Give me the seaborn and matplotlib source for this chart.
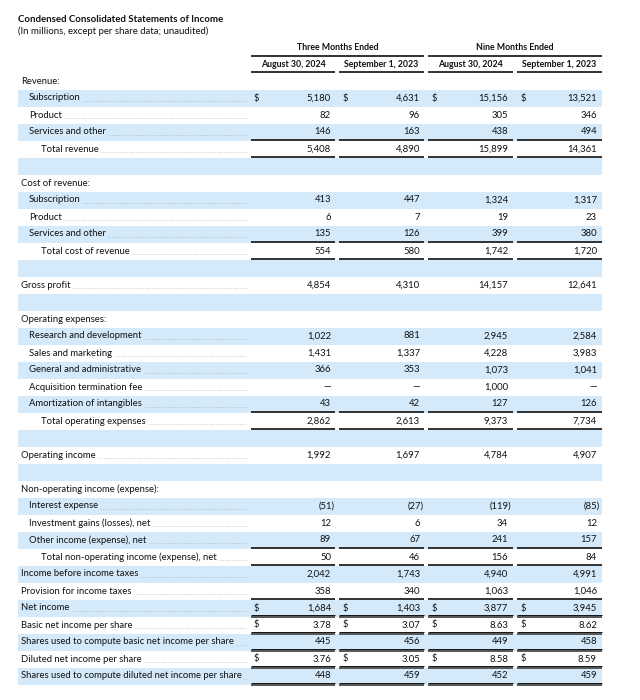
import matplotlib
matplotlib.use("Agg")
import matplotlib.pyplot as plt
import seaborn as sns

sns.set_theme(style="white")
plt.rcParams['font.family'] = ['Lato', 'DejaVu Sans']

title = "Condensed Consolidated Statements of Income"
subtitle = "(In millions, except per share data; unaudited)"
group_headers = ["Three Months Ended", "Nine Months Ended"]
col_headers = ["August 30, 2024", "September 1, 2023", "August 30, 2024", "September 1, 2023"]

labels = [
    "Revenue:", "Subscription", "Product", "Services and other", "Total revenue", "",
    "Cost of revenue:", "Subscription", "Product", "Services and other", "Total cost of revenue", "",
    "Gross profit", "",
    "Operating expenses:", "Research and development", "Sales and marketing",
    "General and administrative", "Acquisition termination fee", "Amortization of intangibles",
    "Total operating expenses", "",
    "Operating income", "",
    "Non-operating income (expense):", "Interest expense", "Investment gains (losses), net",
    "Other income (expense), net", "Total non-operating income (expense), net",
    "Income before income taxes", "Provision for income taxes", "Net income",
    "Basic net income per share", "Shares used to compute basic net income per share",
    "Diluted net income per share", "Shares used to compute diluted net income per share",
]
indent = [0, 1, 1, 1, 2, 0,
          0, 1, 1, 1, 2, 0,
          0, 0,
          0, 1, 1, 1, 1, 1, 2, 0,
          0, 0,
          0, 1, 1, 1, 2,
          0, 0, 0, 0, 0, 0, 0]
three_2024 = [None, 5180, 82, 146, 5408, None,
              None, 413, 6, 135, 554, None,
              4854, None,
              None, 1022, 1431, 366, "—", 43, 2862, None,
              1992, None,
              None, -51, 12, 89, 50,
              2042, 358, 1684, 3.78, 445, 3.76, 448]
three_2023 = [None, 4631, 96, 163, 4890, None,
              None, 447, 7, 126, 580, None,
              4310, None,
              None, 881, 1337, 353, "—", 42, 2613, None,
              1697, None,
              None, -27, 6, 67, 46,
              1743, 340, 1403, 3.07, 456, 3.05, 459]
nine_2024 = [None, 15156, 305, 438, 15899, None,
             None, 1324, 19, 399, 1742, None,
             14157, None,
             None, 2945, 4228, 1073, 1000, 127, 9373, None,
             4784, None,
             None, -119, 34, 241, 156,
             4940, 1063, 3877, 8.63, 449, 8.58, 452]
nine_2023 = [None, 13521, 346, 494, 14361, None,
             None, 1317, 23, 380, 1720, None,
             12641, None,
             None, 2584, 3983, 1041, "—", 126, 7734, None,
             4907, None,
             None, -85, 12, 157, 84,
             4991, 1046, 3945, 8.62, 458, 8.59, 459]
dollar_row_index = [1, 31, 32, 34]
single_rule_rows = [3, 4, 9, 10, 19, 20, 27, 28, 30]
double_rule_rows = [31, 32, 33, 34, 35]


def fmt(v):
    if v is None:
        return ""
    if isinstance(v, str):
        return v
    if isinstance(v, float):
        return f"{v:.2f}"
    if v < 0:
        return f"({abs(v):,})"
    return f"{v:,}"


fig = plt.figure(figsize=(6.4, 7.0), dpi=100)
ax = fig.add_axes([0, 0, 1, 1])
ax.set_xlim(0, 640)
ax.set_ylim(700, 0)
ax.axis("off")

FS = 6.85
row_y0 = 81
row_h = 17
shade = "#D4EAFA"
ink = "#111111"

n = len(labels)
ys = [row_y0 + i * row_h for i in range(n)]

# shaded bands on alternate rows
shaded_y = [ys[i] for i in range(n) if i % 2 == 1]
ax.barh(shaded_y, [602 - 18] * len(shaded_y), left=18, height=row_h,
        color=shade, edgecolor="none", zorder=0)

# titles
ax.text(18, 19, title, fontsize=6.9, fontweight="bold", color=ink, va="center", ha="left")
ax.text(18, 31.5, subtitle, fontsize=6.9, color=ink, va="center", ha="left")

col_left = [251, 339, 428, 517]
col_right = [335, 424, 513, 602]
val_right = [331, 420, 508, 597]
dollar_x = [254, 343, 432, 521]

# header
for g, (l, r) in enumerate([(251, 424), (428, 602)]):
    ax.text((l + r) / 2, 48, group_headers[g], fontsize=6.3, fontweight="bold",
            ha="center", va="center", color=ink)
    ax.plot([l, r], [56, 56], color="#333333", lw=1.4, solid_capstyle="butt")
for c in range(4):
    ax.text((col_left[c] + col_right[c]) / 2, 64.3, col_headers[c], fontsize=6.3,
            fontweight="bold", ha="center", va="center", color=ink)
    ax.plot([col_left[c], col_right[c]], [72, 72], color="#333333", lw=1.4, solid_capstyle="butt")

label_x = {0: 21, 1: 29, 2: 41}
cols = [three_2024, three_2023, nine_2024, nine_2023]

texts = []
for i in range(n):
    if not labels[i]:
        continue
    t = ax.text(label_x[indent[i]], ys[i], labels[i], fontsize=FS, color=ink,
                ha="left", va="center")
    has_vals = any(col[i] is not None for col in cols)
    if has_vals:
        texts.append((t, ys[i]))
    for c in range(4):
        s = fmt(cols[c][i])
        if s:
            xr = val_right[c] + (3.2 if s.startswith("(") else 0)
            ax.text(xr, ys[i], s, fontsize=FS, color=ink, ha="right", va="center")
    if i in dollar_row_index:
        for c in range(4):
            ax.text(dollar_x[c], ys[i], "$", fontsize=FS, color=ink, ha="left", va="center")

# rules
for i in single_rule_rows:
    yb = ys[i] + row_h / 2 - 0.5
    for c in range(4):
        ax.plot([col_left[c], col_right[c]], [yb, yb], color="#222222", lw=1.3,
                solid_capstyle="butt")
for i in double_rule_rows:
    yb = ys[i] + row_h / 2
    for c in range(4):
        ax.plot([col_left[c], col_right[c]], [yb - 1.6, yb - 1.6], color="#111111", lw=0.7,
                solid_capstyle="butt")
        ax.plot([col_left[c], col_right[c]], [yb + 0.8, yb + 0.8], color="#555555", lw=1.4,
                solid_capstyle="butt")

# dotted leaders
fig.canvas.draw()
renderer = fig.canvas.get_renderer()
inv = ax.transData.inverted()
for t, y in texts:
    bb = t.get_window_extent(renderer)
    x_end = inv.transform((bb.x1, bb.y0))[0]
    ax.plot([x_end + 2.5, 247], [y + 3, y + 3], color="#a0a0a0", lw=0.6,
            linestyle=(0, (0.6, 1.6)))

fig.savefig("out.png", dpi=100, facecolor="white")
